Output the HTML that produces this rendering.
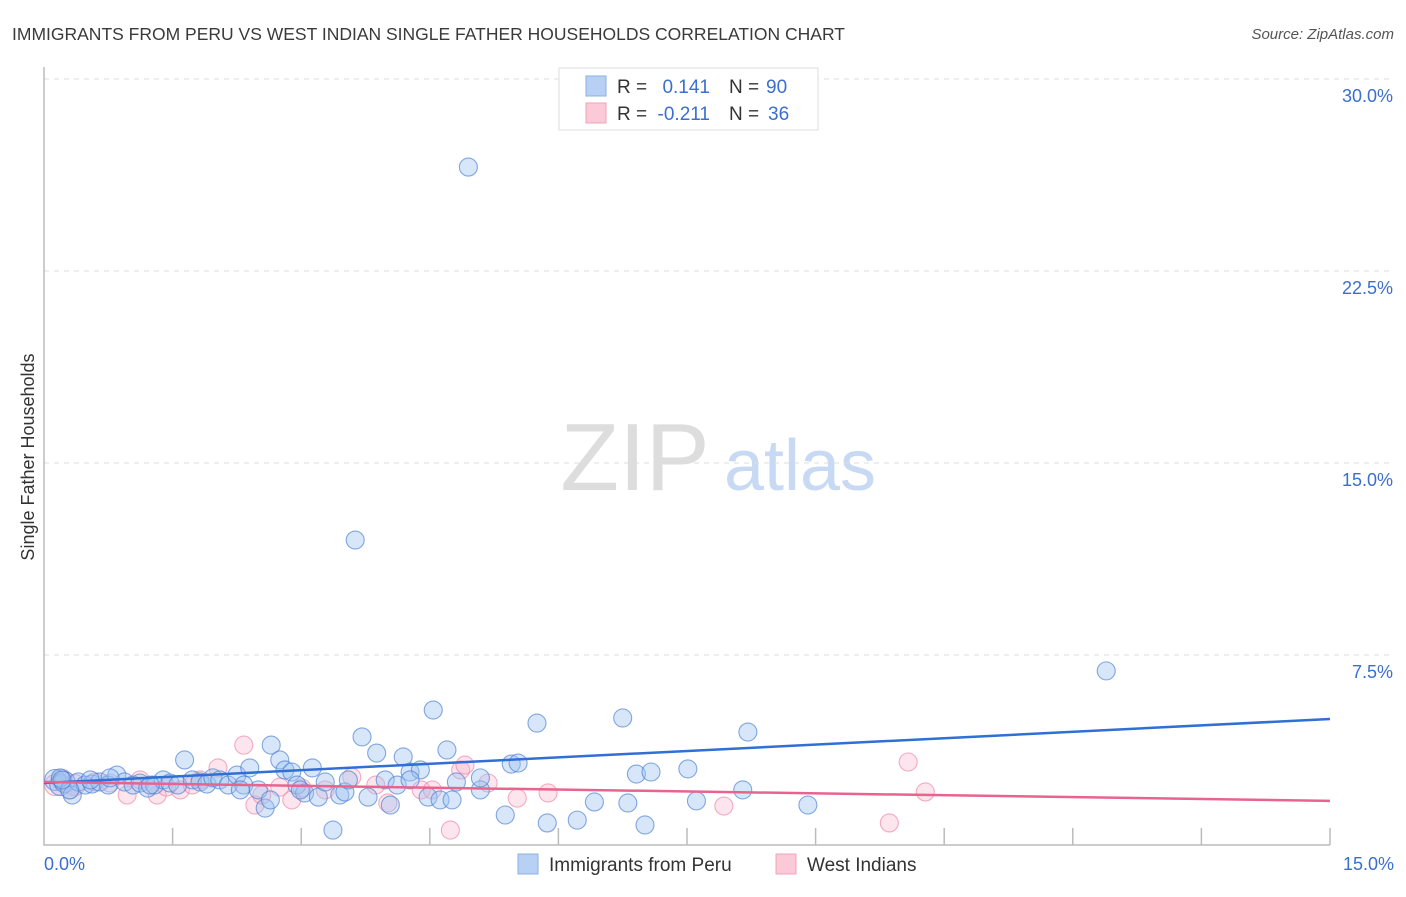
<!DOCTYPE html>
<html><head><meta charset="utf-8"><style>
body{margin:0;background:#fff;font-family:"Liberation Sans",sans-serif}
svg text{font-family:"Liberation Sans",sans-serif}
</style></head><body>
<svg id="chart" width="1406" height="892" viewBox="0 0 1406 892">
<text x="12" y="40" font-size="17.5" fill="#3a3a3a">IMMIGRANTS FROM PERU VS WEST INDIAN SINGLE FATHER HOUSEHOLDS CORRELATION CHART</text>
<text x="1394" y="39" font-size="15" fill="#555" text-anchor="end" font-style="italic">Source: ZipAtlas.com</text>
<text transform="translate(34,457) rotate(-90)" font-size="18" fill="#333" text-anchor="middle">Single Father Households</text>
<g><text x="635" y="490" font-size="96" fill="#ddd" text-anchor="middle" font-family="Liberation Serif">ZIP</text><text x="800" y="490" font-size="72" fill="#c8daf3" text-anchor="middle">atlas</text></g>
<g id="grid"></g><g id="marks"></g>
<g>
<rect x="559" y="68" width="259" height="62" fill="#fff" stroke="#ddd"/>
<rect x="586" y="76" width="20" height="20" fill="#b7d0f3" stroke="#8ab2e6"/>
<rect x="586" y="103" width="20" height="20" fill="#fbc9d8" stroke="#f2a3bd"/>
<text x="617" y="93" font-size="19" fill="#333">R =</text><text x="710" y="93" font-size="19" fill="#3a6fd0" text-anchor="end">0.141</text>
<text x="729" y="93" font-size="19" fill="#333">N =</text><text x="766" y="93" font-size="19" fill="#3a6fd0">90</text>
<text x="617" y="120" font-size="19" fill="#333">R =</text><text x="710" y="120" font-size="19" fill="#3a6fd0" text-anchor="end">-0.211</text>
<text x="729" y="120" font-size="19" fill="#333">N =</text><text x="768" y="120" font-size="19" fill="#3a6fd0">36</text>
</g>
<g>
<rect x="518" y="854" width="20" height="20" fill="#b7d0f3" stroke="#8ab2e6"/>
<text x="549" y="871" font-size="19" fill="#333">Immigrants from Peru</text>
<rect x="776" y="854" width="20" height="20" fill="#fbc9d8" stroke="#f2a3bd"/>
<text x="807" y="871" font-size="19" fill="#333">West Indians</text>
</g>
</svg>
<script>
const yTicks=[7.5,15,22.5,30];
const yTickLabels=["7.5%","15.0%","22.5%","30.0%"];
const xTickLabels=["0.0%","15.0%"];
const blueX=[0.13,0.19,0.24,0.33,0.40,0.48,0.56,0.65,0.75,0.85,0.94,1.04,1.12,1.21,1.29,1.39,1.47,1.56,1.64,1.73,1.82,1.90,1.97,2.05,2.15,2.25,2.33,2.40,2.50,2.58,2.65,2.75,2.81,2.89,2.95,3.04,3.13,3.20,3.28,3.37,3.45,3.51,3.63,3.71,3.78,3.88,3.98,4.04,4.12,4.19,4.27,4.39,4.48,4.54,4.62,4.70,4.76,4.81,4.95,5.09,5.38,5.45,5.53,5.75,5.87,6.22,6.42,6.75,6.81,6.91,7.01,7.08,7.51,7.61,8.15,8.21,8.91,12.39,0.19,0.30,0.54,0.77,1.24,2.29,2.99,4.27,5.09,2.64,3.55,0.21];
const blueY=[2.62,2.42,2.54,2.03,2.54,2.42,2.46,2.54,2.42,2.81,2.54,2.42,2.50,2.30,2.42,2.62,2.50,2.42,3.40,2.62,2.54,2.46,2.70,2.62,2.42,2.81,2.42,3.09,2.23,1.52,3.98,3.40,3.01,2.93,2.42,2.11,3.09,1.95,2.54,0.66,2.03,2.15,11.99,4.30,1.95,3.67,2.62,1.64,2.42,3.52,2.93,3.01,1.95,5.35,1.84,3.79,1.84,2.54,26.56,2.23,1.25,3.24,3.28,4.84,0.94,1.05,1.76,5.04,1.72,2.85,0.86,2.93,3.05,1.80,2.23,4.49,1.64,6.88,2.70,2.23,2.62,2.70,2.42,2.23,2.23,2.62,2.70,1.84,2.62,2.62];
const pinkX=[0.13,0.21,0.36,0.59,0.77,0.97,1.12,1.32,1.43,1.59,1.73,1.82,2.03,2.33,2.46,2.54,2.75,2.89,3.01,3.28,3.59,3.87,4.01,4.40,4.53,4.74,4.86,4.91,5.18,5.52,5.88,7.93,9.86,10.08,10.28,0.30];
const pinkY=[2.42,2.62,2.42,2.54,2.50,2.03,2.62,2.03,2.34,2.23,2.42,2.62,3.09,3.98,1.64,2.03,2.34,1.84,2.30,2.23,2.73,2.42,1.72,2.23,2.23,0.66,3.01,3.20,2.50,1.91,2.11,1.60,0.94,3.32,2.15,2.23];
const blueTrend=[2.5,5.0];
const pinkTrend=[2.54,1.80];
const NS="http://www.w3.org/2000/svg";
const X0=44,X1=1330,Y0=847,PY=25.6;
const sx=v=>X0+(X1-X0)*v/15, sy=v=>Y0-v*PY;
function mk(t,a,p){const e=document.createElementNS(NS,t);for(const k in a)e.setAttribute(k,a[k]);p.appendChild(e);return e;}
const grid=document.getElementById('grid'),marks=document.getElementById('marks');
yTicks.forEach((v,i)=>{
 const l=mk('line',{x1:X0,x2:1394,y1:sy(v),y2:sy(v),stroke:'#ddd','stroke-dasharray':'5,5'},grid);
 
 
 const t=mk('text',{x:1393,y:sy(v)+23,'font-size':18,fill:'#3a6fd0','text-anchor':'end'},grid);
 t.textContent=yTickLabels[i];
 
 
});
const ax=mk('path',{d:`M${X0} 67V845H${X1}`,stroke:'#bbb',fill:'none','stroke-width':1.5},grid);


for(let i=1;i<=10;i++){const tk=mk('line',{x1:sx(i*1.5),x2:sx(i*1.5),y1:828,y2:845,stroke:'#bbb','stroke-width':1.5},grid);
 
 }
[[0,'start',44],[15,'end',1394]].forEach((d,i)=>{const t=mk('text',{x:d[2],y:870,'font-size':18,fill:'#3a6fd0','text-anchor':d[1]},grid);t.textContent=xTickLabels[i];
 
 });
function pts(xs,ys,fill,stroke,name){xs.forEach((x,i)=>{
 const c=mk('circle',{cx:sx(x),cy:sy(ys[i]),r:i<3?10.5:9,fill:fill,stroke:stroke,'stroke-width':1.1},marks);
 
 });}
pts(pinkX,pinkY,'rgba(248,175,198,0.32)','rgba(236,130,165,0.65)','west-indians-point');
pts(blueX,blueY,'rgba(160,196,240,0.42)','rgba(70,125,210,0.65)','peru-point');
const bt=mk('line',{x1:sx(0),y1:sy(blueTrend[0]),x2:sx(15),y2:sy(blueTrend[1]),stroke:'#2f6fd6','stroke-width':2.5},marks);


const pt=mk('line',{x1:sx(0),y1:sy(pinkTrend[0]),x2:sx(15),y2:sy(pinkTrend[1]),stroke:'#e8648f','stroke-width':2.5},marks);


</script>
</body></html>
